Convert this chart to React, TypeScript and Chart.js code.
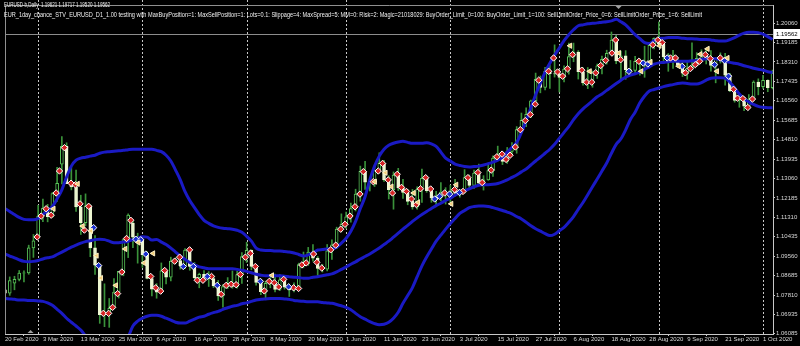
import { useEffect, useRef } from "react";
import { Chart, registerables } from "chart.js";
Chart.register(...registerables);

const tickBars = [0, 8, 16, 24, 32, 40, 48, 56, 64, 72, 80, 88, 96, 104, 112, 120, 128, 136, 144, 152, 160];
const tickLabels = ["20 Feb 2020", "3 Mar 2020", "13 Mar 2020", "25 Mar 2020", "6 Apr 2020", "16 Apr 2020", "28 Apr 2020", "8 May 2020", "20 May 2020", "1 Jun 2020", "11 Jun 2020", "23 Jun 2020", "3 Jul 2020", "15 Jul 2020", "27 Jul 2020", "6 Aug 2020", "18 Aug 2020", "28 Aug 2020", "9 Sep 2020", "21 Sep 2020", "1 Oct 2020"];
const monthStartBars = [7, 29, 51, 72, 94, 117, 138, 160];
const priceTicks = [1.2006, 1.19185, 1.1831, 1.17435, 1.1656, 1.15685, 1.1481, 1.13935, 1.1306, 1.12185, 1.1131, 1.10435, 1.0956, 1.08685, 1.0781, 1.06935, 1.06085];
const priceTickLabels = ["1.20060", "1.19185", "1.18310", "1.17435", "1.16560", "1.15685", "1.14810", "1.13935", "1.13060", "1.12185", "1.11310", "1.10435", "1.09560", "1.08685", "1.07810", "1.06935", "1.06085"];
const currentPrice = 1.19562;
const currentPriceLabel = "1.19562";
const headerLine1 = "EURUSD-b,Daily  1.19621 1.19717 1.19520 1.19562";
const headerLine2 = "EUR_1day_chance_STV_EURUSD_D1_1.00 testing with MaxBuyPosition=1: MaxSellPosition=1: Lots=0.1: Slippage=4: MaxSpread=5: MM=0: Risk=2: Magic=21018029: BuyOrder_Limit_0=100: BuyOrder_Limit_1=100: SellLimitOrder_Price_0=6: SellLimitOrder_Price_1=6: SellLimit";

const open = [1.0805,1.0790,1.0835,1.0852,1.0880,1.0881,1.0994,1.1042,1.1137,1.1173,
1.1134,1.1238,1.1371,1.1451,1.1283,1.1268,1.1178,1.1107,1.1183,1.0994,
1.0916,1.0693,1.0692,1.0722,1.0795,1.0888,1.1031,1.1105,1.1042,1.1029,
1.0963,1.0856,1.0808,1.0794,1.0890,1.0862,1.0934,1.0937,1.0914,1.0984,
1.0910,1.0860,1.0875,1.0862,1.0856,1.0822,1.0778,1.0819,1.0827,1.0820,
1.0874,1.0955,1.0983,1.0910,1.0838,1.0797,1.0834,1.0838,1.0807,1.0850,
1.0817,1.0805,1.0818,1.0919,1.0925,1.0975,1.0948,1.0901,1.0898,1.0980,
1.1007,1.1078,1.1101,1.1134,1.1171,1.1236,1.1338,1.1290,1.1295,1.1342,
1.1375,1.1300,1.1256,1.1322,1.1264,1.1243,1.1203,1.1178,1.1258,1.1307,
1.1251,1.1219,1.1220,1.1245,1.1234,1.1251,1.1239,1.1244,1.1310,1.1275,
1.1331,1.1285,1.1300,1.1342,1.1398,1.1410,1.1383,1.1428,1.1445,1.1527,
1.1568,1.1595,1.1656,1.1753,1.1716,1.1790,1.1778,1.1777,1.1761,1.1799,
1.1855,1.1875,1.1787,1.1737,1.1740,1.1784,1.1814,1.1843,1.1870,1.1930,
1.1836,1.1859,1.1796,1.1793,1.1834,1.1830,1.1820,1.1906,1.1937,1.1913,
1.1854,1.1852,1.1837,1.1819,1.1780,1.1802,1.1814,1.1847,1.1868,1.1846,
1.1815,1.1849,1.1841,1.1772,1.1701,1.1658,1.1671,1.1632,1.1664,1.1740,
1.1720,1.1748,1.1715];
const high = [1.0814,1.0863,1.0866,1.0892,1.0891,1.1006,1.1054,1.1185,1.1214,1.1190,
1.1243,1.1357,1.1495,1.1467,1.1356,1.1344,1.1231,1.1237,1.1188,1.1049,
1.0916,1.0832,1.0766,1.0856,1.0887,1.1032,1.1147,1.1113,1.1060,1.1031,
1.0977,1.0866,1.0833,1.0926,1.0891,1.0952,1.0949,1.0948,1.0991,1.0990,
1.0928,1.0880,1.0892,1.0887,1.0869,1.0847,1.0829,1.0860,1.0890,1.0888,
1.0973,1.1019,1.0985,1.0915,1.0851,1.0844,1.0867,1.0876,1.0874,1.0865,
1.0831,1.0836,1.0925,1.0975,1.0996,1.1009,1.0955,1.0920,1.1009,1.1030,
1.1087,1.1147,1.1155,1.1195,1.1258,1.1362,1.1384,1.1310,1.1361,1.1422,
1.1388,1.1319,1.1336,1.1352,1.1303,1.1257,1.1257,1.1269,1.1349,1.1314,
1.1257,1.1248,1.1288,1.1265,1.1276,1.1303,1.1258,1.1346,1.1322,1.1344,
1.1371,1.1319,1.1375,1.1408,1.1452,1.1423,1.1446,1.1468,1.1540,1.1601,
1.1625,1.1659,1.1781,1.1768,1.1807,1.1817,1.1908,1.1796,1.1814,1.1916,
1.1916,1.1882,1.1806,1.1806,1.1790,1.1822,1.1857,1.1884,1.1966,1.1951,
1.1880,1.1882,1.1838,1.1856,1.1845,1.1902,1.1917,1.1940,1.2011,1.1918,
1.1869,1.1883,1.1843,1.1836,1.1831,1.1917,1.1873,1.1886,1.1888,1.1882,
1.1850,1.1872,1.1870,1.1780,1.1718,1.1687,1.1675,1.1684,1.1746,1.1755,
1.1771,1.1751,1.1794];
const low = [1.0778,1.0780,1.0805,1.0845,1.0841,1.0875,1.0951,1.1035,1.1112,1.1111,
1.1131,1.1203,1.1282,1.1288,1.1255,1.1158,1.1054,1.1093,1.0954,1.0874,
1.0654,1.0639,1.0636,1.0721,1.0768,1.0868,1.0950,1.0995,1.0925,1.0906,
1.0854,1.0778,1.0767,1.0791,1.0831,1.0845,1.0922,1.0898,1.0900,1.0893,
1.0855,1.0814,1.0853,1.0820,1.0815,1.0757,1.0727,1.0810,1.0812,1.0812,
1.0834,1.0928,1.0895,1.0826,1.0783,1.0767,1.0814,1.0795,1.0801,1.0808,
1.0775,1.0795,1.0810,1.0904,1.0915,1.0934,1.0870,1.0885,1.0890,1.0942,
1.0990,1.1066,1.1081,1.1110,1.1160,1.1204,1.1257,1.1250,1.1270,1.1330,
1.1293,1.1214,1.1168,1.1252,1.1217,1.1188,1.1168,1.1168,1.1198,1.1244,
1.1199,1.1187,1.1205,1.1191,1.1201,1.1227,1.1222,1.1240,1.1261,1.1262,
1.1275,1.1254,1.1298,1.1316,1.1392,1.1369,1.1374,1.1412,1.1420,1.1510,
1.1540,1.1580,1.1637,1.1692,1.1705,1.1712,1.1763,1.1696,1.1741,1.1776,
1.1832,1.1754,1.1727,1.1711,1.1717,1.1757,1.1777,1.1821,1.1862,1.1823,
1.1753,1.1753,1.1784,1.1781,1.1771,1.1762,1.1810,1.1890,1.1908,1.1824,
1.1789,1.1802,1.1806,1.1765,1.1753,1.1799,1.1813,1.1838,1.1822,1.1789,
1.1737,1.1826,1.1726,1.1697,1.1650,1.1627,1.1612,1.1625,1.1655,1.1683,
1.1712,1.1697,1.1710];
const close = [1.0790,1.0846,1.0852,1.0880,1.0881,1.0994,1.1026,1.1137,1.1173,1.1134,
1.1238,1.1284,1.1451,1.1283,1.1268,1.1178,1.1107,1.1183,1.0994,1.0916,
1.0693,1.0692,1.0722,1.0795,1.0888,1.1031,1.1141,1.1042,1.1029,1.0963,
1.0856,1.0808,1.0794,1.0890,1.0862,1.0934,1.0937,1.0914,1.0984,1.0910,
1.0860,1.0875,1.0862,1.0856,1.0822,1.0778,1.0819,1.0827,1.0820,1.0874,
1.0955,1.0983,1.0910,1.0838,1.0797,1.0834,1.0838,1.0807,1.0850,1.0817,
1.0805,1.0818,1.0919,1.0925,1.0975,1.0948,1.0901,1.0898,1.0980,1.1007,
1.1078,1.1101,1.1134,1.1171,1.1236,1.1338,1.1290,1.1295,1.1342,1.1375,
1.1300,1.1256,1.1322,1.1264,1.1243,1.1203,1.1178,1.1258,1.1307,1.1251,
1.1219,1.1220,1.1245,1.1234,1.1251,1.1239,1.1244,1.1310,1.1275,1.1331,
1.1285,1.1300,1.1342,1.1398,1.1410,1.1383,1.1428,1.1445,1.1527,1.1568,
1.1595,1.1656,1.1753,1.1716,1.1790,1.1778,1.1777,1.1761,1.1799,1.1855,
1.1875,1.1787,1.1737,1.1740,1.1784,1.1814,1.1843,1.1870,1.1930,1.1836,
1.1859,1.1796,1.1793,1.1834,1.1830,1.1820,1.1906,1.1937,1.1913,1.1854,
1.1852,1.1837,1.1819,1.1780,1.1802,1.1814,1.1847,1.1868,1.1846,1.1815,
1.1849,1.1841,1.1772,1.1701,1.1658,1.1671,1.1632,1.1664,1.1740,1.1720,
1.1748,1.1715,1.1781];

const bbUpper = [1.1171,1.1158,1.1144,1.1131,1.1122,1.1120,1.1120,1.1126,1.1144,1.1162,
1.1180,1.1215,1.1255,1.1313,1.1362,1.1389,1.1398,1.1402,1.1407,1.1411,
1.1420,1.1425,1.1427,1.1429,1.1431,1.1433,1.1436,1.1438,1.1438,1.1438,
1.1438,1.1438,1.1433,1.1427,1.1411,1.1385,1.1344,1.1300,1.1247,1.1207,
1.1175,1.1144,1.1118,1.1104,1.1093,1.1086,1.1082,1.1080,1.1078,1.1073,
1.1064,1.1046,1.1024,1.0993,1.0984,1.0982,1.0982,1.0980,1.0980,1.0977,
1.0975,1.0971,1.0964,1.0957,1.0962,1.0971,1.0984,1.0986,1.0989,1.0989,
1.0997,1.1015,1.1037,1.1069,1.1113,1.1171,1.1224,1.1300,1.1362,1.1407,
1.1438,1.1456,1.1465,1.1471,1.1474,1.1469,1.1465,1.1465,1.1465,1.1467,
1.1462,1.1451,1.1425,1.1398,1.1385,1.1371,1.1365,1.1360,1.1358,1.1360,
1.1362,1.1367,1.1373,1.1380,1.1389,1.1402,1.1425,1.1447,1.1469,1.1514,
1.1567,1.1625,1.1683,1.1736,1.1785,1.1825,1.1861,1.1894,1.1927,1.1954,
1.1976,1.1994,1.1998,1.2003,1.2005,1.2007,1.2010,1.2012,1.2016,1.2023,
1.2012,1.1998,1.1976,1.1954,1.1936,1.1918,1.1914,1.1927,1.1936,1.1938,
1.1941,1.1941,1.1941,1.1938,1.1936,1.1936,1.1934,1.1932,1.1932,1.1930,
1.1927,1.1925,1.1925,1.1932,1.1941,1.1952,1.1961,1.1965,1.1965,1.1963,
1.1956,1.1945,1.1932];
const bbMiddle = [1.0966,1.0957,1.0949,1.0940,1.0933,1.0931,1.0933,1.0937,1.0944,1.0949,
1.0953,1.0964,1.0975,1.0986,1.0997,1.1006,1.1015,1.1022,1.1026,1.1031,
1.1033,1.1031,1.1024,1.1017,1.1017,1.1020,1.1024,1.1031,1.1037,1.1044,
1.1042,1.1029,1.1031,1.1020,1.1009,1.0993,1.0975,1.0957,1.0942,1.0928,
1.0917,1.0908,1.0904,1.0900,1.0900,1.0900,1.0900,1.0900,1.0900,1.0897,
1.0893,1.0888,1.0882,1.0875,1.0871,1.0868,1.0868,1.0868,1.0868,1.0866,
1.0864,1.0862,1.0860,1.0857,1.0857,1.0862,1.0864,1.0868,1.0873,1.0877,
1.0886,1.0897,1.0908,1.0920,1.0931,1.0944,1.0955,1.0966,1.0980,1.0993,
1.1009,1.1024,1.1042,1.1060,1.1078,1.1095,1.1113,1.1129,1.1144,1.1158,
1.1171,1.1184,1.1195,1.1207,1.1218,1.1231,1.1242,1.1251,1.1260,1.1269,
1.1276,1.1278,1.1278,1.1280,1.1284,1.1291,1.1300,1.1311,1.1322,1.1336,
1.1349,1.1367,1.1385,1.1402,1.1420,1.1438,1.1460,1.1487,1.1514,1.1540,
1.1571,1.1598,1.1620,1.1638,1.1656,1.1674,1.1687,1.1703,1.1718,1.1734,
1.1749,1.1763,1.1772,1.1778,1.1785,1.1798,1.1809,1.1821,1.1827,1.1829,
1.1832,1.1834,1.1834,1.1834,1.1834,1.1836,1.1838,1.1843,1.1845,1.1847,
1.1845,1.1841,1.1834,1.1829,1.1825,1.1821,1.1814,1.1809,1.1803,1.1798,
1.1794,1.1787,1.1783];
const bbLower = [1.0766,1.0764,1.0762,1.0759,1.0759,1.0757,1.0757,1.0755,1.0753,1.0746,
1.0735,1.0717,1.0699,1.0677,1.0659,1.0642,1.0624,1.0597,1.0570,1.0544,
1.0526,1.0512,1.0508,1.0512,1.0526,1.0557,1.0593,1.0642,1.0664,1.0677,
1.0686,1.0690,1.0690,1.0686,1.0677,1.0668,1.0659,1.0655,1.0655,1.0664,
1.0673,1.0682,1.0686,1.0695,1.0702,1.0708,1.0717,1.0724,1.0731,1.0735,
1.0742,1.0746,1.0753,1.0759,1.0762,1.0764,1.0766,1.0766,1.0766,1.0764,
1.0762,1.0757,1.0755,1.0753,1.0751,1.0751,1.0751,1.0748,1.0746,1.0744,
1.0739,1.0733,1.0726,1.0715,1.0699,1.0684,1.0673,1.0662,1.0653,1.0648,
1.0650,1.0659,1.0677,1.0704,1.0744,1.0779,1.0815,1.0864,1.0913,1.0953,
1.0989,1.1024,1.1051,1.1078,1.1104,1.1126,1.1149,1.1162,1.1175,1.1180,
1.1182,1.1182,1.1180,1.1175,1.1169,1.1162,1.1155,1.1147,1.1135,1.1124,
1.1109,1.1093,1.1080,1.1069,1.1058,1.1049,1.1055,1.1071,1.1086,1.1109,
1.1135,1.1167,1.1198,1.1233,1.1269,1.1304,1.1340,1.1376,1.1420,1.1460,
1.1485,1.1525,1.1572,1.1605,1.1647,1.1678,1.1700,1.1707,1.1714,1.1720,
1.1725,1.1729,1.1734,1.1736,1.1734,1.1732,1.1732,1.1738,1.1749,1.1758,
1.1760,1.1760,1.1758,1.1740,1.1714,1.1687,1.1665,1.1651,1.1640,1.1631,
1.1627,1.1625,1.1625];

// trade markers (bar position, price)
const sellBars = [12.55,11.5,13.94,14.87,15.83,17.66,16.76,10.79,8.68,7.63,9.74,6.79,26.56,25.65,24.66,23.76,22.71,20.75,21.87,30.76,31.81,32.86,
33.7,35.81,36.86,38.96,40.58,41.78,43.59,45.63,46.68,47.73,48.78,49.68,50.74,51.79,52.84,54.73,55.78,56.83,57.76,58.81,60.91,61.96,62.66,63.56,65.12,
65.81,66.86,68.75,69.81,70.86,71.76,72.81,73.87,74.92,75.63,77.73,78.78,79.69,80.88,81.79,82.78,83.68,84.73,85.79,86.84,87.68,88.79,89.84,92.79,94.89,96.66,97.71,
99.81,100.71,102.61,103.81,104.92,105.76,106.6,107.72,108.77,109.82,110.87,111.92,112.64,114.74,115.79,116.63,117.68,118.73,119.78,121.74,122.73,123.84,124.68,125.73,126.78,128.11,128.89,129.94,
133.79,136.73,137.78,138.71,140.45,141.5,143.61,144.66,145.7,146.61,147.81,148.86,150.97,153.76,154.6,155.74,156.79,157.76];
const sellPrices = [1.1445,1.1340,1.1285,1.1278,1.1192,1.1181,1.1074,1.1241,1.1170,1.1137,1.1141,1.1043,1.1118,1.1036,1.0885,1.0788,1.0726,1.0699,1.0699,1.0865,1.0814,1.0799,
1.0892,1.0934,1.0952,1.0985,1.0848,1.0848,1.0865,1.0785,1.0825,1.0830,1.0828,1.0874,1.0952,1.0969,1.0910,1.0800,1.0843,1.0837,1.0818,1.0852,1.0814,1.0811,1.0917,1.0926,1.0966,
1.0929,1.0903,1.0985,1.1006,1.1078,1.1100,1.1137,1.1179,1.1236,1.1337,1.1292,1.1340,1.1374,1.1300,1.1241,1.1325,1.1266,1.1248,1.1214,1.1189,1.1260,1.1310,1.1259,1.1241,1.1256,1.1248,1.1310,
1.1333,1.1288,1.1344,1.1404,1.1416,1.1392,1.1411,1.1448,1.1526,1.1567,1.1594,1.1641,1.1749,1.1789,1.1849,1.1786,1.1767,1.1800,1.1864,1.1794,1.1740,1.1740,1.1782,1.1815,1.1838,1.1871,1.1930,1.1841,
1.1834,1.1908,1.1930,1.1918,1.1849,1.1849,1.1782,1.1801,1.1819,1.1834,1.1864,1.1846,1.1849,1.1708,1.1668,1.1666,1.1626,1.1664];
const buyBars = [18.71,19.76,27.61,28.66,29.71,37.63,39.74,42.68,44.79,53.89,59.86,90.69,91.74,93.84,95.94,131.69,134.71,135.68,139.76,142.92,149.77,151.87,152.71];
const buyPrices = [1.1085,1.0914,1.1033,1.1030,1.0966,1.0910,1.0910,1.0865,1.0825,1.0843,1.0818,1.1214,1.1226,1.1236,1.1243,1.1789,1.1826,1.1822,1.1849,1.1811,1.1819,1.1837,1.1767];
const closeBars = [15.35,16.4,18.15,19.34,20.25,23.4,25.38,28.18,29.37,31.27,10.24,56.35,78.07,80.32,81.58,86.27,87.19,94.2,95.25,119.28,123.42,129.58,134.29,136.25,138.14,142.2,146.76,148.3,150.27,152.5];
const closePrices = [1.1282,1.1092,1.1070,1.0959,1.0858,1.0825,1.0989,1.1018,1.0926,1.0969,1.1170,1.0870,1.1292,1.1332,1.1270,1.1241,1.1199,1.1192,1.1278,1.1904,1.1789,1.1871,1.1789,1.1831,1.1904,1.1812,1.1866,1.1890,1.1789,1.1849];

const bandColor = "#1a1ac4";
const wickColor = "#3a923a";
const bullBorder = "#58c458";
const bearFill = "#eef7d2";
const textColor = "#d8d8d8";
const FONT = "Liberation Sans";

function drawFitted(ctx: CanvasRenderingContext2D, text: string, x: number, y: number, width: number) {
  const w = ctx.measureText(text).width;
  ctx.save();
  ctx.translate(x, y);
  ctx.scale(width / w, 1);
  ctx.fillText(text, 0, 0);
  ctx.restore();
}

const decor = {
  id: "mt4decor",
  beforeDraw(chart: any) {
    const { ctx, width, height } = chart;
    ctx.save();
    ctx.fillStyle = "#000000";
    ctx.fillRect(0, 0, width, height);
    ctx.restore();
  },
  beforeDatasetsDraw(chart: any) {
    const { ctx, chartArea: a, scales } = chart;
    const x = scales.x, y = scales.y;
    ctx.save();
    ctx.strokeStyle = "#c8c8c8";
    ctx.lineWidth = 1;
    ctx.setLineDash([2, 2]);
    monthStartBars.forEach((b) => {
      const px = Math.round(x.getPixelForValue(b)) + 0.5;
      ctx.beginPath();
      ctx.moveTo(px, 0);
      ctx.lineTo(px, a.bottom);
      ctx.stroke();
    });
    ctx.setLineDash([]);
    const py = Math.round(y.getPixelForValue(currentPrice)) + 0.5;
    ctx.strokeStyle = "#8c8c8c";
    ctx.beginPath();
    ctx.moveTo(a.left, py);
    ctx.lineTo(a.right, py);
    ctx.stroke();
    ctx.restore();
  },
  afterDraw(chart: any) {
    const { ctx, chartArea: a, scales } = chart;
    const x = scales.x, y = scales.y;
    ctx.save();
    ctx.strokeStyle = "#909090";
    ctx.lineWidth = 1;
    ctx.beginPath();
    ctx.moveTo(a.left + 0.5, a.bottom);
    ctx.lineTo(a.left + 0.5, a.top + 0.5);
    ctx.lineTo(a.right, a.top + 0.5);
    ctx.stroke();
    ctx.fillStyle = "#f0f0f0";
    ctx.font = `7px "${FONT}"`;
    ctx.textBaseline = "middle";
    ctx.textAlign = "left";
    drawFitted(ctx, headerLine1, 4, 5.5, 106);
    drawFitted(ctx, headerLine2, 4, 15, 698);
    const py = Math.round(y.getPixelForValue(currentPrice));
    ctx.fillStyle = "#ffffff";
    ctx.fillRect(a.right + 1, py - 5, 800 - a.right - 1, 10);
    ctx.fillStyle = "#000000";
    ctx.font = `6px "${FONT}"`;
    ctx.fillText(currentPriceLabel, a.right + 3, py + 0.5);
    ctx.fillStyle = "#a0a0a0";
    const tx = x.getPixelForValue(129.5);
    ctx.beginPath();
    ctx.moveTo(tx - 3, a.top + 1);
    ctx.lineTo(tx + 3, a.top + 1);
    ctx.lineTo(tx, a.top + 4);
    ctx.closePath();
    ctx.fill();
    const bx = x.getPixelForValue(5.4);
    ctx.beginPath();
    ctx.moveTo(bx - 3, a.bottom - 1);
    ctx.lineTo(bx + 3, a.bottom - 1);
    ctx.lineTo(bx, a.bottom - 4);
    ctx.closePath();
    ctx.fill();
    ctx.restore();
  },
};

export default function App() {
  const ref = useRef<HTMLCanvasElement | null>(null);
  useEffect(() => {
    document.body.style.margin = "0";
    document.body.style.overflow = "hidden";
    document.body.style.background = "#000";
    const canvas = ref.current!;
    const idx = close.map((_, i) => i);
    const wicks = idx.map((i) => ({ x: i, y: [low[i], high[i]] }));
    const bodies = idx.map((i) => {
      const o = open[i], c = close[i];
      return { x: i, y: Math.abs(o - c) < 0.00005 ? [o - 0.00004, o + 0.00004] : [o, c] };
    });
    const bodyFill = idx.map((i) => (close[i] >= open[i] ? "#000000" : bearFill));
    const bodyBorder = idx.map((i) => (close[i] >= open[i] ? bullBorder : bearFill));
    const line = (arr: number[]) => arr.map((v, i) => ({ x: i, y: v }));
    const band = (arr: number[]) => ({
      type: "line", data: line(arr), borderColor: bandColor, borderWidth: 3, pointRadius: 0,
      cubicInterpolationMode: "monotone", order: 1,
    });
    const chart = new Chart(canvas, {
      type: "bar",
      data: {
        datasets: [
          {
            type: "scatter",
            data: closeBars.map((b, i) => ({ x: b, y: closePrices[i] })),
            pointStyle: "triangle",
            rotation: -90,
            pointRadius: 3,
            backgroundColor: "#f3cf7a",
            borderColor: "#fff2c8",
            borderWidth: 1,
            order: 0,
          } as any,
          {
            type: "scatter",
            data: buyBars.map((b, i) => ({ x: b, y: buyPrices[i] })),
            pointStyle: "rectRot",
            pointRadius: 3.2,
            backgroundColor: "#1a2fd0",
            borderColor: "#ffffff",
            borderWidth: 1,
            order: 0,
          } as any,
          {
            type: "scatter",
            data: sellBars.map((b, i) => ({ x: b, y: sellPrices[i] })),
            pointStyle: "rectRot",
            pointRadius: 3.2,
            backgroundColor: "#d42424",
            borderColor: "#ffffff",
            borderWidth: 1,
            order: 0,
          } as any,
          band(bbUpper) as any,
          band(bbMiddle) as any,
          band(bbLower) as any,
          {
            type: "bar",
            data: bodies,
            backgroundColor: bodyFill,
            borderColor: bodyBorder,
            borderWidth: 1,
            borderSkipped: false,
            barThickness: 3,
            grouped: false,
            order: 2,
          } as any,
          {
            type: "bar",
            data: wicks,
            backgroundColor: wickColor,
            borderWidth: 0,
            barThickness: 1,
            grouped: false,
            order: 3,
          } as any,
        ],
      },
      options: {
        animation: false,
        responsive: false,
        maintainAspectRatio: false,
        events: [],
        layout: { padding: { left: 2, top: 1, right: 0, bottom: 0 } },
        plugins: { legend: { display: false }, tooltip: { enabled: false } },
        scales: {
          x: {
            type: "linear",
            min: 0,
            max: 162.1,
            offset: false,
            grid: { display: true, drawOnChartArea: false, drawTicks: true, tickLength: 2, color: "#c8c8c8" },
            border: { display: true, color: "#c8c8c8" },
            ticks: {
              autoSkip: false,
              maxRotation: 0,
              minRotation: 0,
              align: "start",
              padding: 0,
              color: textColor,
              font: { family: FONT, size: 6 },
              callback: (_v: any, i: number) => tickLabels[i],
            },
            afterBuildTicks: (s: any) => {
              s.ticks = tickBars.map((v) => ({ value: v }));
            },
            afterFit: (s: any) => {
              s.height = 12;
              s.paddingLeft = 0;
              s.paddingRight = 0;
            },
          },
          y: {
            type: "linear",
            position: "right",
            min: 1.0606,
            max: 1.20875,
            grid: { display: true, drawOnChartArea: false, drawTicks: true, tickLength: 2, color: "#c8c8c8" },
            border: { display: true, color: "#c8c8c8" },
            ticks: {
              autoSkip: false,
              crossAlign: "near",
              padding: 1,
              color: textColor,
              font: { family: FONT, size: 6 },
              callback: (_v: any, i: number) => priceTickLabels[i],
            },
            afterBuildTicks: (s: any) => {
              s.ticks = priceTicks.map((v) => ({ value: v }));
            },
            afterFit: (s: any) => {
              s.width = 27;
              s.paddingTop = 0;
              s.paddingBottom = 0;
            },
          },
        },
      } as any,
      plugins: [decor as any],
    });
    return () => chart.destroy();
  }, []);
  return <canvas ref={ref} width={800} height={346} style={{ display: "block", width: 800, height: 346 }} />;
}
